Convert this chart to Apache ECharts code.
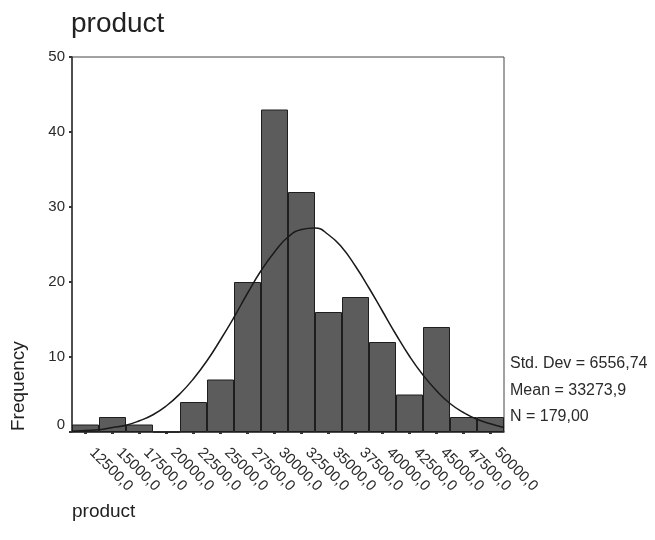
<!DOCTYPE html>
<html>
<head>
<meta charset="utf-8">
<script src="https://cdn.jsdelivr.net/npm/echarts@6/dist/echarts.min.js"></script>
<style>
html,body{margin:0;padding:0;background:#ffffff;}
#chart{width:655px;height:540px;}
</style>
</head>
<body>
<div id="chart"></div>
<script>
// Bin labels (midpoints) and frequencies
const categories = ["12500,0","15000,0","17500,0","20000,0","22500,0","25000,0","27500,0","30000,0","32500,0","35000,0","37500,0","40000,0","42500,0","45000,0","47500,0","50000,0"];
const frequencies = [1, 2, 1, 0, 4, 7, 20, 43, 32, 16, 18, 12, 5, 14, 2, 2];
// Normal curve (x in product units, y in frequency)
const curveX = [11250,12500,13750,15000,16250,17500,18750,20000,21250,22500,23750,25000,26250,27500,28750,30000,31250,32500,33750,35000,36250,37500,38750,40000,41250,42500,43750,45000,46250,47500,48750,50000,51250];
const curveY = [0.1,0.2,0.3,0.6,0.9,1.5,2.3,3.5,5.1,7.1,9.5,12.3,15.3,18.5,21.5,24.0,26.0,27.0,27.2,26.3,24.6,22.1,19.2,16.1,13.0,10.1,7.6,5.5,3.8,2.6,1.7,1.1,0.6];
const yTicks = [0, 10, 20, 30, 40, 50];
const statsLines = ["Std. Dev = 6556,74", "Mean = 33273,9", "N = 179,00"];

const chart = echarts.init(document.getElementById('chart'), null, {renderer: 'canvas'});
const font = '"Liberation Sans", Arial, sans-serif';
const txt = '#2a2a2a';

const curveData = curveX.map((x, i) => [x, curveY[i]]);

chart.setOption({
  backgroundColor: '#ffffff',
  animation: false,
  grid: {left: 72, right: 151, top: 57, bottom: 108, show: true, borderColor: '#444', borderWidth: 1, backgroundColor: 'transparent'},
  xAxis: [{
    type: 'category',
    data: categories,
    boundaryGap: true,
    axisLine: {lineStyle: {color: '#333', width: 1.5}},
    axisTick: {show: true, alignWithLabel: true, length: 2, lineStyle: {color: '#333', width: 3}},
    axisLabel: {rotate: -45, color: txt, fontFamily: font, fontSize: 15, margin: 12, padding: [0, 0, 0, 9], interval: 0}
  }, {
    type: 'value',
    min: 11250, max: 51250,
    show: false
  }],
  yAxis: {
    type: 'value',
    min: 0, max: 50, interval: 10,
    axisLine: {show: true, lineStyle: {color: '#333', width: 1.5}},
    axisTick: {show: true, length: 3, lineStyle: {color: '#333', width: 2}},
    splitLine: {show: false},
    axisLabel: {color: txt, fontFamily: font, fontSize: 15, margin: 7,
      formatter: v => v === 0 ? '{z|0}' : (yTicks.indexOf(v) >= 0 ? String(v) : ''),
      rich: {z: {fontFamily: font, fontSize: 15, color: txt, padding: [0, 0, 14, 0]}}}
  },
  series: [{
    type: 'bar',
    data: frequencies,
    xAxisIndex: 0,
    barCategoryGap: '0%',
    itemStyle: {color: '#5c5c5c', borderColor: '#1e1e1e', borderWidth: 1}
  }, {
    type: 'line',
    data: curveData,
    xAxisIndex: 1,
    smooth: true,
    showSymbol: false,
    lineStyle: {color: '#1a1a1a', width: 1.5},
    z: 5
  }],
  graphic: [
    {type: 'text', left: 71, top: 10, style: {text: 'product', font: '28px ' + font, fill: '#222'}},
    {type: 'text', left: 72, top: 502, style: {text: 'product', font: '19px ' + font, fill: '#222'}},
    {type: 'text', x: 9, y: 431, rotation: Math.PI / 2, style: {text: 'Frequency', font: '19px ' + font, fill: '#222', verticalAlign: 'top'}},
    {type: 'text', x: 510, y: 364, style: {text: statsLines[0], font: '16px ' + font, fill: txt, verticalAlign: 'middle'}},
    {type: 'text', x: 510, y: 391, style: {text: statsLines[1], font: '16px ' + font, fill: txt, verticalAlign: 'middle'}},
    {type: 'text', x: 510, y: 417, style: {text: statsLines[2], font: '16px ' + font, fill: txt, verticalAlign: 'middle'}}
  ]
});
</script>
</body>
</html>
